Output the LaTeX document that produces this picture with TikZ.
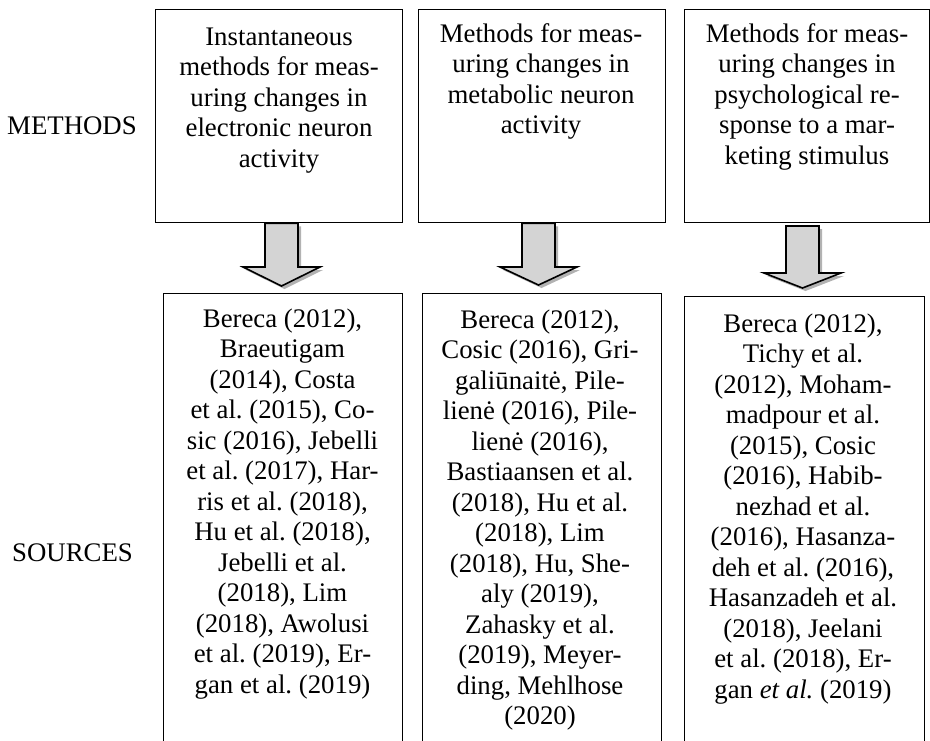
\documentclass[tikz,border=0pt]{standalone}
\usepackage{fontspec}
\setmainfont{Liberation Serif}
\usetikzlibrary{calc,shadows}
\frenchspacing

\tikzset{
  panel/.style={draw, line width=1.4pt, inner sep=0pt, anchor=north west},
  boxtext/.style={font=\fontsize{26.8}{30.5}\selectfont, align=center,
    inner sep=0pt, anchor=north},
  sidelabel/.style={font=\fontsize{26.8}{30.5}\selectfont, inner sep=0pt,
    anchor=base west},
  fatarrow/.style={draw, line width=1.6pt, fill=black!17, line join=miter,
    drop shadow={shadow xshift=3pt, shadow yshift=-3pt, fill=black!60}},
}

% block arrow from #1 (top of the shaft) to #2 (tip); #3 = height of the head
\newcommand\blockarrow[3]{%
  \filldraw[fatarrow] let \p1=(#1), \p2=(#2) in
    (\x1-16.5pt,\y1) -- (\x1+16.5pt,\y1) -- (\x1+16.5pt,\y2+#3)
    -- (\x1+38.5pt,\y2+#3) -- (\x2,\y2) -- (\x1-38.5pt,\y2+#3)
    -- (\x1-16.5pt,\y2+#3) -- cycle;}

\begin{document}
\begin{tikzpicture}[x=1pt, y=-1pt]
\useasboundingbox (0,0) rectangle (930,740);
\clip (0,0) rectangle (930,740);

% row labels
\node[sidelabel] (lm) at (7,134) {METHODS};
\node[sidelabel] (ls) at (12,561) {SOURCES};

% method boxes
\node[panel, minimum width=247, minimum height=213] (m1) at (155,9) {};
\node[panel, minimum width=247, minimum height=213] (m2) at (418,9) {};
\node[panel, minimum width=244.5, minimum height=213] (m3) at (684,9) {};

\node[boxtext] (tm1) at (279,23.6) {\strut Instantaneous\\methods for meas-\\uring changes in\\electronic neuron\\activity};
\node[boxtext] (tm2) at (541,20.6) {\strut Methods for meas-\\uring changes in\\metabolic neuron\\activity};
\node[boxtext] (tm3) at (807,20.6) {\strut Methods for meas-\\uring changes in\\psychological re-\\sponse to a mar-\\keting stimulus};

% source boxes (open at the lower edge)
\node[panel, minimum width=239, minimum height=470] (s1) at (163,293) {};
\node[panel, minimum width=239, minimum height=470] (s2) at (422,293) {};
\node[panel, minimum width=240, minimum height=470] (s3) at (684,296) {};

\node[boxtext] (ts1) at (282.5,305.6) {\strut Bereca (2012),\\Braeutigam\\(2014), Costa\\et al. (2015), Co-\\sic (2016), Jebelli\\et al. (2017), Har-\\ris et al. (2018),\\Hu et al. (2018),\\Jebelli et al.\\(2018), Lim\\(2018), Awolusi\\et al. (2019), Er-\\gan et al. (2019)};
\node[boxtext] (ts2) at (540,306.6) {\strut Bereca (2012),\\Cosic (2016), Gri-\\galiūnaitė, Pile-\\lienė (2016), Pile-\\lienė (2016),\\Bastiaansen et al.\\(2018), Hu et al.\\(2018), Lim\\(2018), Hu, She-\\aly (2019),\\Zahasky et al.\\(2019), Meyer-\\ding, Mehlhose\\(2020)};
\node[boxtext] (ts3) at (803,310.6) {\strut Bereca (2012),\\Tichy et al.\\(2012), Moham-\\madpour et al.\\(2015), Cosic\\(2016), Habib-\\nezhad et al.\\(2016), Hasanza-\\deh et al. (2016),\\Hasanzadeh et al.\\(2018), Jeelani\\et al. (2018), Er-\\gan \textit{et al.} (2019)};

% arrows between the rows
\coordinate (a1) at (m1.south -| 281.5,0);
\coordinate (a1t) at (281.5,286);
\coordinate (a2) at (m2.south -| 538.5,0);
\coordinate (a2t) at (538.5,285);
\coordinate (a3) at (802.5,226);
\coordinate (a3t) at (802.5,288);
\blockarrow{a1}{a1t}{19pt}
\blockarrow{a2}{a2t}{18pt}
\blockarrow{a3}{a3t}{15pt}
\end{tikzpicture}
\end{document}
